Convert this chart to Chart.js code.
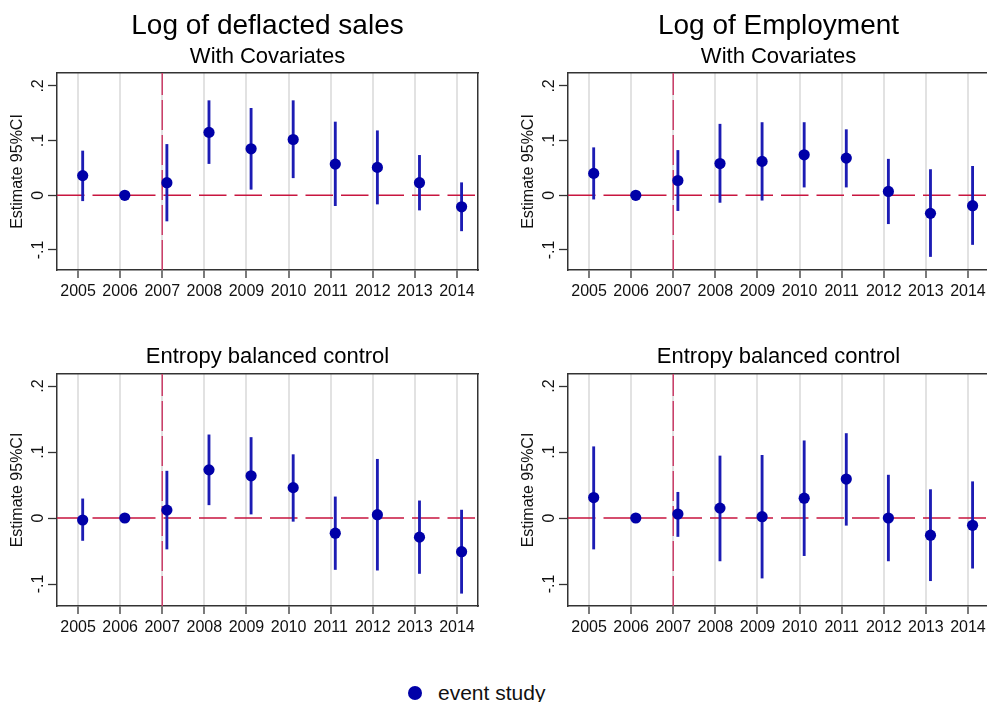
<!DOCTYPE html>
<html>
<head>
<meta charset="utf-8">
<script src="https://cdn.jsdelivr.net/npm/chart.js@4.4.0/dist/chart.umd.min.js"></script>
<style>
  html, body { margin: 0; padding: 0; background: #fff; overflow: hidden; width: 987px; height: 702px; }
  canvas { position: absolute; }
  #legend { position: absolute; left: 408px; top: 680px; height: 25px; display: flex; align-items: center;
            font: 21px "Liberation Sans", Arial, sans-serif; color: #111; white-space: nowrap; }
  #legend .dot { width: 14px; height: 14px; border-radius: 50%; background: #0000a8; margin-right: 16px; }
</style>
</head>
<body>
<canvas id="salesCov" width="535" height="310" style="left:0;top:0"></canvas>
<canvas id="empCov" width="535" height="310" style="left:511px;top:0"></canvas>
<canvas id="salesEb" width="535" height="316" style="left:0;top:330px"></canvas>
<canvas id="empEb" width="535" height="316" style="left:511px;top:330px"></canvas>
<div id="legend"><span class="dot"></span><span>event study</span></div>

<script>
// ----- data -----
const years = [2005, 2006, 2007, 2008, 2009, 2010, 2011, 2012, 2013, 2014];
const treatYear = 2007;
const yTickValues = [-0.1, 0, 0.1, 0.2];
const yTickLabels = ['-.1', '0', '.1', '.2'];

// Log of deflacted sales, with covariates
const salesCovEst = [0.036, 0, 0.023, 0.115, 0.085, 0.102, 0.057, 0.051, 0.023, -0.021];
const salesCovLo  = [-0.010, null, -0.047, 0.058, 0.011, 0.032, -0.019, -0.016, -0.027, -0.065];
const salesCovHi  = [0.081, null, 0.093, 0.173, 0.159, 0.173, 0.134, 0.118, 0.073, 0.023];

// Log of employment, with covariates
const empCovEst = [0.040, 0, 0.027, 0.058, 0.062, 0.074, 0.068, 0.007, -0.033, -0.019];
const empCovLo  = [-0.007, null, -0.028, -0.013, -0.009, 0.015, 0.015, -0.052, -0.112, -0.090];
const empCovHi  = [0.087, null, 0.082, 0.130, 0.133, 0.133, 0.120, 0.066, 0.047, 0.053];

// Log of deflacted sales, entropy balanced control
const salesEbEst = [-0.003, 0, 0.012, 0.073, 0.064, 0.046, -0.023, 0.005, -0.029, -0.051];
const salesEbLo  = [-0.034, null, -0.047, 0.020, 0.006, -0.005, -0.078, -0.079, -0.084, -0.114];
const salesEbHi  = [0.029, null, 0.071, 0.126, 0.122, 0.096, 0.032, 0.089, 0.026, 0.012];

// Log of employment, entropy balanced control
const empEbEst = [0.031, 0, 0.006, 0.015, 0.002, 0.030, 0.059, 0, -0.026, -0.011];
const empEbLo  = [-0.047, null, -0.028, -0.065, -0.091, -0.057, -0.011, -0.065, -0.095, -0.076];
const empEbHi  = [0.108, null, 0.039, 0.094, 0.095, 0.117, 0.128, 0.065, 0.043, 0.055];

// ----- style -----
const FONT = '"Liberation Sans", Arial, sans-serif';
Chart.defaults.font.family = FONT;
Chart.defaults.color = '#111';
const markerBlue = '#0000a8';
const ciBlue = '#1c1cb4';
const axisColor = '#333';
const pointShift = 0.11; // markers sit a little right of the year line

// reference lines: y = 0 and the treatment year
const refLines = {
  id: 'refLines',
  beforeDatasetsDraw(chart) {
    const { ctx, chartArea: a, scales: { x, y } } = chart;
    ctx.save();
    const px = x.getPixelForValue(treatYear);
    ctx.strokeStyle = '#cc3f6a';
    ctx.lineWidth = 1.5;
    ctx.setLineDash([30, 5]);
    ctx.beginPath();
    ctx.moveTo(px, a.bottom);
    ctx.lineTo(px, a.top);
    ctx.stroke();
    const py = y.getPixelForValue(0);
    ctx.strokeStyle = '#c8153f';
    ctx.setLineDash([27.5, 8]);
    ctx.beginPath();
    ctx.moveTo(a.left, py);
    ctx.lineTo(a.right, py);
    ctx.stroke();
    ctx.restore();
  }
};

function buildPanel(id, cfg) {
  const { est, lo, hi, title, subtitle, yMin, yMax } = cfg;
  const points = years.map((yr, i) => ({ x: yr + pointShift, y: est[i] }));
  const ci = years
    .map((yr, i) => (lo[i] == null ? null : { x: yr + pointShift, y: [lo[i], hi[i]] }))
    .filter(d => d);

  const titles = {
    title: {
      display: true, text: title.text, color: '#000',
      font: { size: title.size, weight: 'normal' },
      padding: title.pad
    },
    subtitle: {
      display: !!subtitle, text: subtitle ? subtitle.text : '', color: '#000',
      font: { size: 22, weight: 'normal' },
      padding: subtitle ? subtitle.pad : 0
    }
  };

  return new Chart(document.getElementById(id), {
    type: 'scatter',
    data: {
      datasets: [
        { type: 'scatter', label: 'event study', data: points, order: 0,
          pointRadius: 5.6, pointBackgroundColor: markerBlue, pointBorderWidth: 0 },
        { type: 'bar', label: 'ci', data: ci, order: 1, grouped: false,
          backgroundColor: ciBlue, barThickness: 2.2, borderWidth: 0 }
      ]
    },
    options: {
      responsive: false,
      animation: false,
      events: [],
      layout: { padding: 0 },
      plugins: { legend: { display: false }, tooltip: { enabled: false }, ...titles },
      scales: {
        x: {
          type: 'linear', min: 2004.5, max: 2014.5, offset: false,
          afterBuildTicks: s => { s.ticks = years.map(v => ({ value: v })); },
          ticks: { callback: v => String(v), font: { size: 16 }, color: '#111', padding: 4,
                   maxRotation: 0, autoSkip: false },
          grid: { offset: false, color: '#e2e2e2', lineWidth: 2, tickColor: axisColor,
                  tickLength: 8, tickWidth: 1.3 },
          border: { color: axisColor, width: 1.5 },
          afterFit: s => { s.height = 40; }
        },
        xTop: {
          type: 'linear', position: 'top', min: 2004.5, max: 2014.5, offset: false,
          ticks: { display: false }, grid: { display: false },
          border: { color: axisColor, width: 1.5 },
          afterFit: s => { s.height = 0; }
        },
        y: {
          min: yMin, max: yMax,
          afterBuildTicks: s => { s.ticks = yTickValues.map(v => ({ value: v })); },
          ticks: { callback: v => yTickLabels[yTickValues.indexOf(v)], font: { size: 16 }, color: '#111',
                   minRotation: 90, maxRotation: 90, crossAlign: 'center', padding: 0 },
          grid: { drawOnChartArea: false, tickColor: axisColor, tickLength: 9, tickWidth: 1.3 },
          border: { color: axisColor, width: 1.5 },
          title: { display: true, text: 'Estimate 95%CI', font: { size: 16 }, color: '#111',
                   padding: { top: 8, bottom: 0 } },
          afterFit: s => { s.width = 57; }
        },
        yRight: {
          position: 'right', min: yMin, max: yMax,
          ticks: { display: false }, grid: { display: false },
          border: { color: axisColor, width: 1.5 },
          afterFit: s => { s.width = 57; }
        }
      }
    },
    plugins: [refLines]
  });
}

buildPanel('salesCov', {
  est: salesCovEst, lo: salesCovLo, hi: salesCovHi, yMin: -0.1366, yMax: 0.2236,
  title: { text: 'Log of deflacted sales', size: 28, pad: { top: 9, bottom: 0 } },
  subtitle: { text: 'With Covariates', pad: { top: 1, bottom: 3 } }
});
buildPanel('empCov', {
  est: empCovEst, lo: empCovLo, hi: empCovHi, yMin: -0.1366, yMax: 0.2236,
  title: { text: 'Log of Employment', size: 28, pad: { top: 9, bottom: 0 } },
  subtitle: { text: 'With Covariates', pad: { top: 1, bottom: 3 } }
});
buildPanel('salesEb', {
  est: salesEbEst, lo: salesEbLo, hi: salesEbHi, yMin: -0.1333, yMax: 0.2182,
  title: { text: 'Entropy balanced control', size: 22, pad: { top: 14, bottom: 3.6 } }
});
buildPanel('empEb', {
  est: empEbEst, lo: empEbLo, hi: empEbHi, yMin: -0.1333, yMax: 0.2182,
  title: { text: 'Entropy balanced control', size: 22, pad: { top: 14, bottom: 3.6 } }
});
</script>
</body>
</html>
